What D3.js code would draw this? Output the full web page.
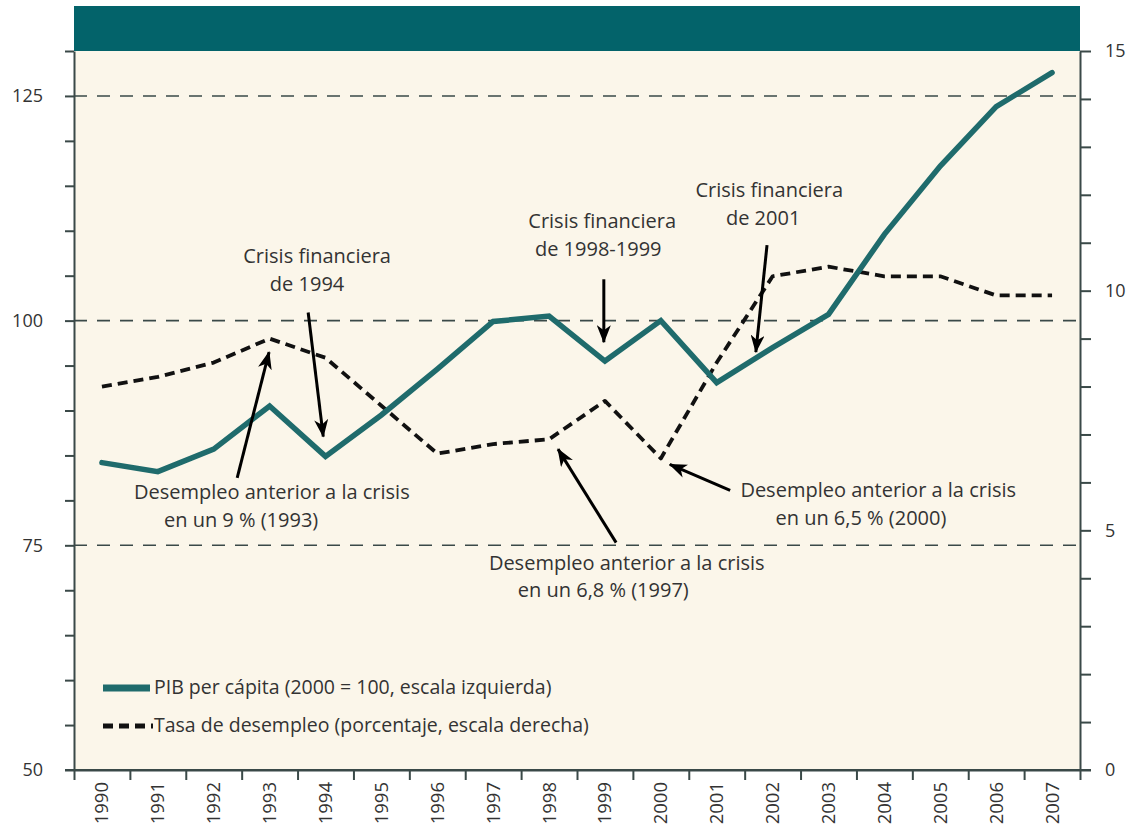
<!DOCTYPE html>
<html>
<head>
<meta charset="utf-8">
<script src="https://cdn.jsdelivr.net/npm/d3@7/dist/d3.min.js"></script>
<style>
  html, body { margin: 0; padding: 0; background: #ffffff; }
  svg { display: block; }
  text { font-family: "Open Sans", Lato, sans-serif; fill: #333333; }
</style>
</head>
<body>
<svg id="chart" width="1131" height="832"></svg>
<script>
// Years on the horizontal axis
const years = [1990, 1991, 1992, 1993, 1994, 1995, 1996, 1997, 1998,
               1999, 2000, 2001, 2002, 2003, 2004, 2005, 2006, 2007];

// GDP per capita, index 2000 = 100 (left scale)
const pibPerCapita = [84.2, 83.2, 85.7, 90.5, 84.9, 89.5, 94.6, 99.9, 100.5,
                      95.5, 100.0, 93.1, 97.0, 100.7, 109.6, 117.2, 123.8, 127.6];

// Unemployment rate, percent (right scale)
const desempleo = [8.0, 8.2, 8.5, 9.0, 8.6, 7.6, 6.6, 6.8, 6.9,
                   7.7, 6.5, 8.5, 10.3, 10.5, 10.3, 10.3, 9.9, 9.9];

// Axis ticks
const leftTicks = d3.range(50, 131, 5);
const leftLabels = [50, 75, 100, 125];
const rightTicks = d3.range(0, 16, 1);
const rightLabels = [0, 5, 10, 15];
const gridValues = [75, 100, 125];

// Legend entries
const legendItems = [
  "PIB per cápita (2000 = 100, escala izquierda)",
  "Tasa de desempleo (porcentaje, escala derecha)"
];

// Annotations: text lines placed in (year, left-scale value) units
const notes = [
  { lines: [["Crisis financiera", 1993.85, 106.4], ["de 1994", 1993.67, 103.3]] },
  { lines: [["Crisis financiera", 1998.95, 110.3], ["de 1998-1999", 1998.88, 107.2]] },
  { lines: [["Crisis financiera", 2001.94, 113.7], ["de 2001", 2001.83, 110.6]] },
  { lines: [["Desempleo anterior a la crisis", 1993.04, 80.1], ["en un 9 % (1993)", 1992.49, 77.0]] },
  { lines: [["Desempleo anterior a la crisis", 1999.39, 72.3], ["en un 6,8 % (1997)", 1998.97, 69.2]] },
  { lines: [["Desempleo anterior a la crisis", 2003.89, 80.4], ["en un 6,5 % (2000)", 2003.58, 77.3]] }
];

// Arrows: [fromYear, fromValue, toYear, toValue] in left-scale units
const arrows = [
  [1992.42, 82.5, 1992.99, 96.5],
  [1993.69, 100.9, 1993.96, 87.1],
  [1998.98, 104.6, 1998.98, 97.6],
  [2001.90, 108.4, 2001.70, 96.5],
  [1999.20, 75.3, 1998.16, 85.7],
  [2001.24, 81.1, 2000.16, 84.0]
];

const W = 1131, H = 832;
const margin = { top: 51, right: 51, bottom: 62, left: 74 };
const plotW = W - margin.left - margin.right;
const plotH = H - margin.top - margin.bottom;
const x0 = margin.left, x1 = margin.left + plotW;
const y0 = margin.top + plotH, y1 = margin.top;

const svg = d3.select("#chart");

const x = d3.scaleBand().domain(years).range([x0, x1]).paddingInner(0).paddingOuter(0);
const xc = d => x(d) + x.bandwidth() / 2;
const xLin = d3.scaleLinear().domain([years[0] - 0.5, years[years.length - 1] + 0.5]).range([x0, x1]);
const yL = d3.scaleLinear().domain([50, 130]).range([y0, y1]);
const yR = d3.scaleLinear().domain([0, 15]).range([y0, y1]);

const teal = "#1f6b6c";
const axisColor = "#3a4948";

// Plot background and header band
svg.append("rect").attr("x", x0).attr("y", y1).attr("width", plotW).attr("height", plotH)
  .attr("fill", "#fbf6ea");
svg.append("rect").attr("x", x0).attr("y", 6).attr("width", plotW).attr("height", y1 - 6)
  .attr("fill", "#03636a");

// Dashed reference lines
svg.append("g").selectAll("line").data(gridValues).join("line")
  .attr("x1", x0).attr("x2", x1)
  .attr("y1", d => yL(d)).attr("y2", d => yL(d))
  .attr("stroke", axisColor).attr("stroke-width", 1.6)
  .attr("stroke-dasharray", "13,10");

// Left axis
const gL = svg.append("g").attr("transform", `translate(${x0},0)`)
  .call(d3.axisLeft(yL).tickValues(leftTicks).tickSize(9).tickSizeOuter(0).tickPadding(22)
    .tickFormat(d => leftLabels.includes(d) ? d : ""));
// Right axis
const gR = svg.append("g").attr("transform", `translate(${x1},0)`)
  .call(d3.axisRight(yR).tickValues(rightTicks).tickSize(11).tickSizeOuter(0).tickPadding(14)
    .tickFormat(d => rightLabels.includes(d) ? d : ""));
// Bottom axis: ticks on year boundaries
const edges = d3.range(years.length + 1).map(i => years[0] - 0.5 + i);
const gB = svg.append("g").attr("transform", `translate(0,${y0})`)
  .call(d3.axisBottom(xLin).tickValues(edges).tickSize(10).tickSizeOuter(0).tickFormat(""));

[gL, gR, gB].forEach(g => {
  g.select(".domain").attr("stroke", axisColor).attr("stroke-width", 2);
  g.selectAll(".tick line").attr("stroke", axisColor).attr("stroke-width", 2);
  g.selectAll(".tick text").attr("font-size", 18).attr("fill", "#333")
    .attr("font-family", "Lato, 'Open Sans', sans-serif");
});
// Extend the baseline past both axes
svg.append("line").attr("x1", x0 - 9).attr("x2", x1 + 11).attr("y1", y0).attr("y2", y0)
  .attr("stroke", axisColor).attr("stroke-width", 2);

// Year labels, rotated
svg.append("g").selectAll("text").data(years).join("text")
  .attr("transform", d => `translate(${xc(d)},${y0 + 12}) rotate(-90)`)
  .attr("text-anchor", "end").attr("dy", "0.35em")
  .attr("font-size", 18.5).attr("fill", "#444")
  .attr("font-family", "Lato, 'Open Sans', sans-serif")
  .text(d => d);

// Unemployment line (dashed, right scale)
const lineR = d3.line().x((d, i) => xc(years[i])).y(d => yR(d));
svg.append("path").datum(desempleo)
  .attr("d", lineR).attr("fill", "none")
  .attr("stroke", "#111").attr("stroke-width", 3.8)
  .attr("stroke-dasharray", "10,6").attr("stroke-linejoin", "round");

// GDP per capita line (left scale)
const lineL = d3.line().x((d, i) => xc(years[i])).y(d => yL(d));
svg.append("path").datum(pibPerCapita)
  .attr("d", lineL).attr("fill", "none")
  .attr("stroke", teal).attr("stroke-width", 5.5)
  .attr("stroke-linejoin", "miter").attr("stroke-linecap", "round");

// Arrowhead marker
svg.append("defs").append("marker")
  .attr("id", "head").attr("markerUnits", "userSpaceOnUse")
  .attr("viewBox", "0 0 18 14").attr("refX", 17).attr("refY", 7)
  .attr("markerWidth", 18).attr("markerHeight", 14).attr("orient", "auto")
  .append("path").attr("d", "M0,0 L18,7 L0,14 L5,7 Z").attr("fill", "#000");

svg.append("g").selectAll("line").data(arrows).join("line")
  .attr("x1", d => xLin(d[0])).attr("y1", d => yL(d[1]))
  .attr("x2", d => xLin(d[2])).attr("y2", d => yL(d[3]))
  .attr("stroke", "#000").attr("stroke-width", 3)
  .attr("marker-end", "url(#head)");

// Annotation text
const gN = svg.append("g");
notes.forEach(n => {
  n.lines.forEach(([t, yr, v]) => {
    gN.append("text").attr("x", xLin(yr)).attr("y", yL(v))
      .attr("text-anchor", "middle").attr("font-size", 20).attr("fill", "#333")
      .text(t);
  });
});

// Legend
const legend = svg.append("g").attr("transform", `translate(${x0 + 29},0)`);
legend.append("line").attr("x1", 0).attr("x2", 47).attr("y1", 688).attr("y2", 688)
  .attr("stroke", teal).attr("stroke-width", 7);
legend.append("text").attr("x", 51).attr("y", 694).attr("font-size", 19.5).text(legendItems[0]);
legend.append("line").attr("x1", 0).attr("x2", 50).attr("y1", 726).attr("y2", 726)
  .attr("stroke", "#111").attr("stroke-width", 5).attr("stroke-dasharray", "10,6");
legend.append("text").attr("x", 51).attr("y", 732).attr("font-size", 19.5).text(legendItems[1]);
</script>
</body>
</html>
